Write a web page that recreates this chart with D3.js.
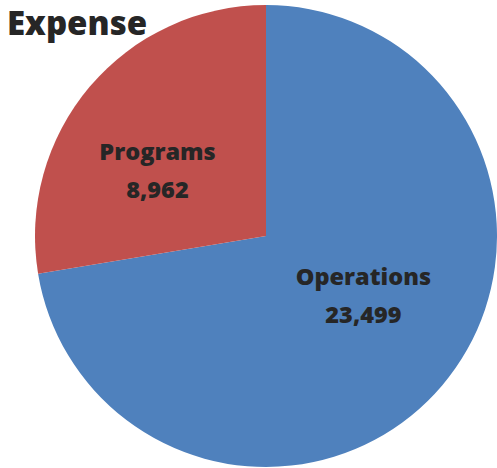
<!DOCTYPE html>
<html>
<head>
<meta charset="utf-8">
<script src="https://cdn.jsdelivr.net/npm/d3@7"></script>
<style>
  body { margin: 0; background: #fff; }
  svg { display: block; }
</style>
</head>
<body>
<svg id="chart"></svg>
<script>
// Data
const categories = ["Operations", "Programs"];
const values = [23499, 8962];
const colors = ["#4f81bd", "#c0504d"];
const title = "Expense";

const dimensions = {
    width: 497,
    height: 468,
    cx: 266,
    cy: 236,
    radius: 231
};

const data = categories.map((c, i) => ({ name: c, value: values[i] }));

const svg = d3.select("#chart")
    .attr("width", dimensions.width)
    .attr("height", dimensions.height);

const pie = d3.pie()
    .sort(null)
    .value(d => d.value);

const arc = d3.arc()
    .innerRadius(0)
    .outerRadius(dimensions.radius);

const colorScale = d3.scaleOrdinal()
    .domain(categories)
    .range(colors);

const g = svg.append("g")
    .attr("transform", `translate(${dimensions.cx}, ${dimensions.cy})`);

const arcs = pie(data);

g.selectAll("path")
    .data(arcs)
    .enter()
    .append("path")
    .attr("d", arc)
    .attr("fill", d => colorScale(d.data.name));

// Labels, nudged a bit counter-clockwise like the original
const labelPos = d => {
    const a = (d.startAngle + d.endAngle) / 2 - 9 * Math.PI / 180;
    const r = d.data.name === "Programs" ? 127 : 114;
    return [r * Math.sin(a), -r * Math.cos(a)];
};

const labels = g.selectAll("text.label")
    .data(arcs)
    .enter()
    .append("text")
    .attr("class", "label")
    .attr("transform", d => `translate(${labelPos(d)})`)
    .attr("text-anchor", "middle")
    .style("font-family", "'Open Sans', sans-serif")
    .style("font-weight", "800")
    .style("font-size", "23.5px")
    .style("fill", "#262626");

labels.append("tspan")
    .attr("x", 0)
    .attr("y", -10)
    .text(d => d.data.name);

labels.append("tspan")
    .attr("x", 0)
    .attr("y", 28)
    .text(d => d3.format(",")(d.data.value));

svg.append("text")
    .attr("x", 7)
    .attr("y", 35)
    .style("font-family", "'Open Sans', sans-serif")
    .style("font-weight", "800")
    .style("font-size", "33px")
    .style("fill", "#262626")
    .text(title);
</script>
</body>
</html>
